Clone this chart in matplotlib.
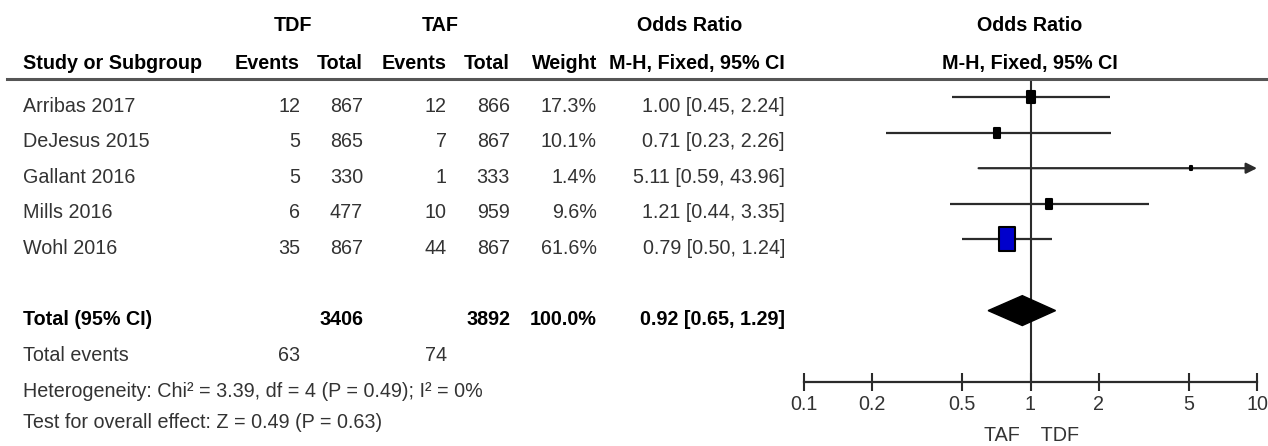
import matplotlib
matplotlib.use("Agg")
import matplotlib.pyplot as plt
import matplotlib.transforms as mtransforms
from matplotlib.path import Path
from matplotlib.ticker import FixedLocator, FixedFormatter

# study data
studies = ["Arribas 2017", "DeJesus 2015", "Gallant 2016", "Mills 2016", "Wohl 2016"]
tdf_events = [12, 5, 5, 6, 35]
tdf_total = [867, 865, 330, 477, 867]
taf_events = [12, 7, 1, 10, 44]
taf_total = [866, 867, 333, 959, 867]
weights = [17.3, 10.1, 1.4, 9.6, 61.6]
odds = [1.00, 0.71, 5.11, 1.21, 0.79]
ci_low = [0.45, 0.23, 0.59, 0.44, 0.50]
ci_high = [2.24, 2.26, 43.96, 3.35, 1.24]

pooled_or = 0.92
pooled_low = 0.65
pooled_high = 1.29
heterogeneity = "Heterogeneity: Chi² = 3.39, df = 4 (P = 0.49); I² = 0%"
overall = "Test for overall effect: Z = 0.49 (P = 0.63)"

axis_ticks = [0.1, 0.2, 0.5, 1, 2, 5, 10]
axis_labels = ["0.1", "0.2", "0.5", "1", "2", "5", "10"]

W, H = 1268, 446
plt.rcParams['font.family'] = ['Liberation Sans', 'DejaVu Sans']
fig = plt.figure(figsize=(W / 100, H / 100), dpi=100)

# forest panel; rows share y with the table text
ax = fig.add_axes([804 / W, 0, 453 / W, 1])
row_px = 35.6
top_px = 97
ax.set_ylim((H - top_px) / row_px, -top_px / row_px)
ax.set_xscale("log")
ax.set_xlim(0.1, 10)

ink = "#2b2b2b"
txt = "#333333"
fs = 14.2
n = len(studies)
total_row = n + 1

for i in range(n):
    size = 17.3 * (weights[i] / max(weights)) ** 0.5
    if ci_high[i] > 10:
        # CI runs off the scale: arrow to the edge
        ax.annotate("", xy=(10, i), xytext=(ci_low[i], i), annotation_clip=False,
                    arrowprops=dict(arrowstyle="-|>", color=ink, lw=1.6,
                                    mutation_scale=16, shrinkA=0, shrinkB=0))
    else:
        ax.plot([ci_low[i], ci_high[i]], [i, i], color=ink, lw=1.6,
                solid_capstyle="butt", clip_on=False)
    box = Path([(-0.7, -1), (0.7, -1), (0.7, 1), (-0.7, 1), (-0.7, -1)], closed=True)
    face = "#0000cc" if size > 15 else "black"
    ax.plot([odds[i]], [i], marker=box, ms=size, mfc=face, mec="black", mew=1.5, zorder=4)

# pooled diamond
d = 0.42
ax.fill([pooled_low, pooled_or, pooled_high, pooled_or],
        [total_row, total_row - d, total_row, total_row + d], color="black", zorder=4)

axis_row = 8
ax.vlines(1, -0.5, axis_row, color=ink, lw=1.5)
ax.axhline(-0.5, xmin=(7 - 804) / 453, xmax=(W - 804) / 453, color="#555555", lw=2.2, clip_on=False)

for s in ["top", "left", "right"]:
    ax.spines[s].set_visible(False)
ax.spines["bottom"].set_position(("data", axis_row))
ax.spines["bottom"].set_color(ink)
ax.spines["bottom"].set_linewidth(1.6)
ax.set_yticks([])
ax.xaxis.set_major_locator(FixedLocator(axis_ticks))
ax.xaxis.set_major_formatter(FixedFormatter(axis_labels))
ax.xaxis.set_minor_locator(FixedLocator([]))
ax.tick_params(axis="x", direction="inout", length=13, width=1.5, color=ink,
               labelsize=fs, labelcolor=txt, pad=3)
ax.patch.set_visible(False)

# table text: figure x, data y
tr = mtransforms.blended_transform_factory(fig.transFigure, ax.transData)
base = 0.41


def put(xpx, row, s, ha="right", bold=False, color=txt):
    ax.text(xpx / W, row + base, s, transform=tr, ha=ha, va="baseline", fontsize=fs,
            color="black" if bold else color, weight="bold" if bold else "normal")


grp_row = -2.25
col_row = -1.21
put(293, grp_row, "TDF", ha="center", bold=True)
put(440, grp_row, "TAF", ha="center", bold=True)
put(690, grp_row, "Odds Ratio", ha="center", bold=True)
put(1030, grp_row, "Odds Ratio", ha="center", bold=True)
put(23, col_row, "Study or Subgroup", ha="left", bold=True)
put(300, col_row, "Events", bold=True)
put(363, col_row, "Total", bold=True)
put(447, col_row, "Events", bold=True)
put(510, col_row, "Total", bold=True)
put(597, col_row, "Weight", bold=True)
put(785, col_row, "M-H, Fixed, 95% CI", bold=True)
put(1030, col_row, "M-H, Fixed, 95% CI", ha="center", bold=True)

for i in range(n):
    put(23, i, studies[i], ha="left")
    put(300, i, str(tdf_events[i]))
    put(363, i, str(tdf_total[i]))
    put(447, i, str(taf_events[i]))
    put(510, i, str(taf_total[i]))
    put(597, i, f"{weights[i]:.1f}%")
    put(785, i, f"{odds[i]:.2f} [{ci_low[i]:.2f}, {ci_high[i]:.2f}]")

put(23, total_row, "Total (95% CI)", ha="left", bold=True)
put(363, total_row, str(sum(tdf_total)), bold=True)
put(510, total_row, str(sum(taf_total)), bold=True)
put(597, total_row, f"{sum(weights):.1f}%", bold=True)
put(785, total_row, f"{pooled_or:.2f} [{pooled_low:.2f}, {pooled_high:.2f}]", bold=True)

put(23, total_row + 1, "Total events", ha="left")
put(300, total_row + 1, str(sum(tdf_events)))
put(447, total_row + 1, str(sum(taf_events)))
put(23, total_row + 2.02, heterogeneity, ha="left")
put(23, total_row + 2.9, overall, ha="left")

ax.text(1, 9.52, "TAF  ", ha="right", va="center", fontsize=fs, color=txt)
ax.text(1, 9.52, "  TDF", ha="left", va="center", fontsize=fs, color=txt)

fig.savefig("out.png", dpi=100, facecolor="white")
